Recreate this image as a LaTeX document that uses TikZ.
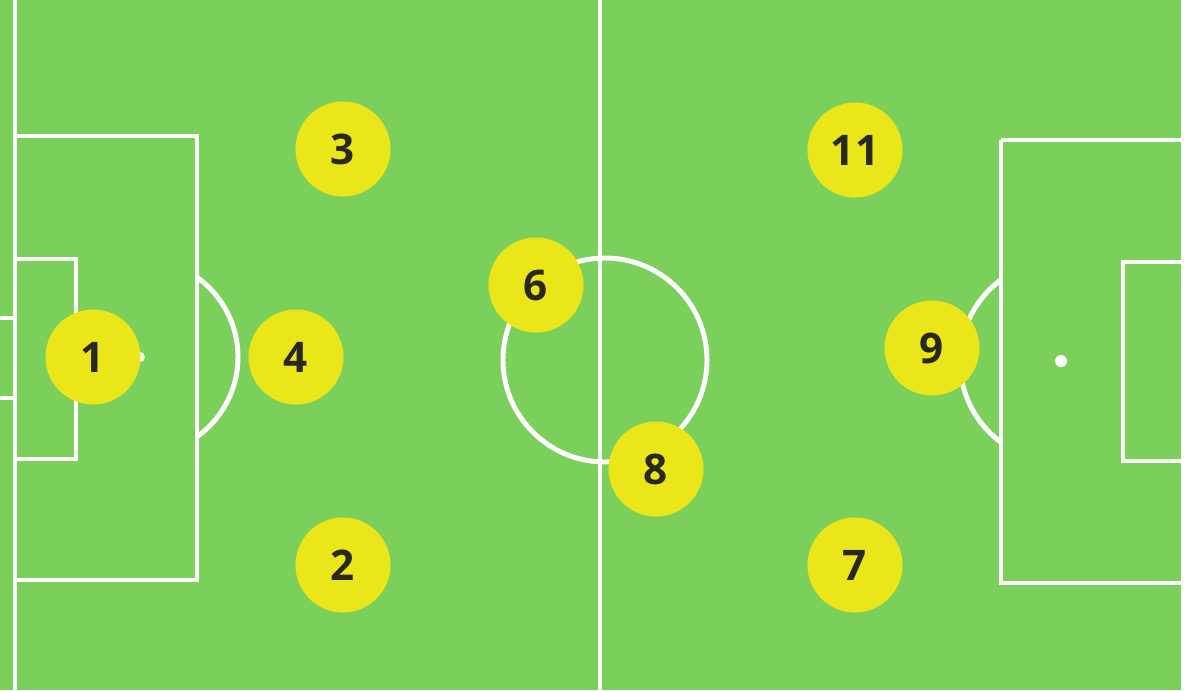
\documentclass[tikz,border=0pt]{standalone}
\usepackage{fontspec}
\setmainfont{Open Sans}
\definecolor{gazon}{RGB}{122,208,90}
\definecolor{jaune}{RGB}{234,230,25}
\definecolor{encre}{RGB}{40,40,30}
\begin{document}
\begin{tikzpicture}[x=0.01cm, y=-0.01cm]
\tikzset{pion/.style={circle, fill=jaune, inner sep=0pt, minimum size=0.95cm, text=encre, font=\fontsize{12}{14}\selectfont\bfseries}}
\tikzset{ligne/.style={draw=white, line width=1.4pt}}
\fill[gazon] (0,0) rectangle (1184,690);
\useasboundingbox (0,0) rectangle (1184,690);
\draw[ligne] (15,0) -- (15,690);
\draw[ligne] (0,318) -- (15,318);
\draw[ligne] (0,398) -- (15,398);
\draw[ligne] (15,136) rectangle (197,580);
\draw[ligne] (15,259) rectangle (76,459);
\fill[white] (140,357) circle[radius=5];
\begin{scope}
\clip (197,0) rectangle (400,690);
\draw[ligne] (140,357) circle[radius=98];
\end{scope}
\draw[ligne] (600,0) -- (600,690);
\draw[ligne] (605,360) circle[radius=102];
\draw[ligne] (1001,140) -- (1190,140);
\draw[ligne] (1001,140) -- (1001,583) -- (1190,583);
\draw[ligne] (1190,262) -- (1123,262) -- (1123,461) -- (1190,461);
\draw[ligne] (1183,0) -- (1183,690);
\fill[white] (1061,361) circle[radius=6];
\begin{scope}
\clip (800,0) rectangle (1001,690);
\draw[ligne] (1061,361) circle[radius=101];
\end{scope}
\node[pion] (J1) at (93,357) {1};
\node[pion] (J2) at (343,565) {2};
\node[pion] (J3) at (343,149) {3};
\node[pion] (J4) at (296,357) {4};
\node[pion] (J6) at (536,285) {6};
\node[pion] (J8) at (656,469) {8};
\node[pion] (J7) at (855,565) {7};
\node[pion] (J9) at (932,348) {9};
\node[pion] (J11) at (855,150) {11};
\end{tikzpicture}
\end{document}
